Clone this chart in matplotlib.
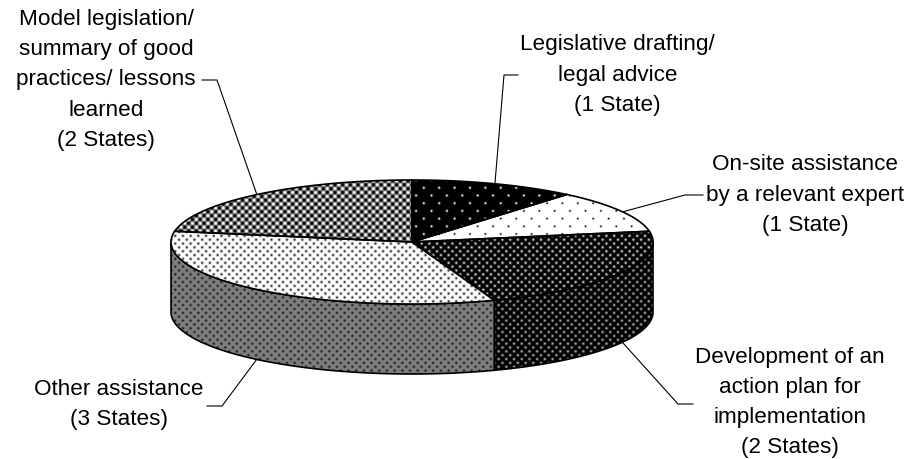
import numpy as np
import matplotlib
matplotlib.use("Agg")
import matplotlib.pyplot as plt
from matplotlib.patches import Polygon

categories = ["Legislative drafting/\nlegal advice\n(1 State)",
              "On-site assistance\nby a relevant expert\n(1 State)",
              "Development of an\naction plan for\nimplementation\n(2 States)",
              "Other assistance\n(3 States)",
              "Model legislation/\nsummary of good\npractices/ lessons\nlearned\n(2 States)"]
states = [1, 1, 2, 3, 2]

W, H = 907, 459
CX, CY, RX, RY, DEPTH = 412, 242, 241, 62, 70
plt.rcParams["font.family"] = ["Liberation Sans", "DejaVu Sans"]

fig = plt.figure(figsize=(W / 100, H / 100), dpi=100)
ax = fig.add_axes([0, 0, 1, 1])
ax.set_xlim(0, W)
ax.set_ylim(H, 0)
ax.axis("off")

yy, xx = np.mgrid[0:H, 0:W] + 0.5


def dots(bg, fg, px, py, sigma=0.75, ox=0.0, oy=0.0):
    w = np.zeros_like(xx)
    for dx, dy in ((0, 0), (px / 2, py / 2)):
        a = (xx - ox - dx + px / 2) % px - px / 2
        b = (yy - oy - dy + py / 2) % py - py / 2
        w = np.maximum(w, np.exp(-(a * a + b * b) / (2 * sigma * sigma)))
    return bg + (fg - bg) * w


def weave(p=7.7):
    v = 0.45 + 0.6 * np.cos(2 * np.pi * xx / p) * np.cos(2 * np.pi * yy / p)
    return np.clip(v, 0, 1)


top_tex = [dots(0.0, 1.0, 15.4, 15.4, 0.8, ox=8, oy=3),
           dots(1.0, 0.0, 15.4, 15.4, 0.7, ox=8, oy=3),
           dots(0.0, 0.85, 7.7, 7.7, 0.9, ox=2, oy=1),
           dots(1.0, 0.15, 7.7, 7.7, 0.9, ox=2, oy=1),
           weave()]
side_tex = {2: dots(0.0, 0.7, 7.7, 7.7, 0.9, ox=2, oy=1),
            3: dots(0.5, 0.1, 7.7, 7.7, 0.9, ox=2, oy=1)}


def rim(t0, t1, n=120):
    t = np.radians(np.linspace(t0, t1, n))
    return np.c_[CX + RX * np.sin(t), CY - RY * np.cos(t)]


def paint(poly, tex, z):
    im = ax.imshow(tex, cmap="gray", vmin=0, vmax=1, extent=(0, W, H, 0),
                   interpolation="nearest", zorder=z, aspect="auto")
    clip = Polygon(poly, closed=True, transform=ax.transData)
    im.set_clip_path(clip)
    ax.add_patch(Polygon(poly, closed=True, fc="none", ec="black", lw=1.2,
                         joinstyle="round", zorder=z + 0.5))


edges = np.cumsum([0] + states) / sum(states) * 360
for i, (a, b) in enumerate(zip(edges[:-1], edges[1:])):
    lo, hi = max(a, 90), min(b, 270)
    if lo < hi:
        front = rim(lo, hi)
        back = front[::-1] + [0, DEPTH]
        paint(np.r_[front, back], side_tex[i], 2)
for i, (a, b) in enumerate(zip(edges[:-1], edges[1:])):
    paint(np.r_[[[CX, CY]], rim(a, b)], top_tex[i], 3)

leaders = [[(518, 75), (504, 75), (495, 183)],
           [(703, 195), (685, 195), (622, 212)],
           [(693, 404), (678, 404), (623, 343)],
           [(207, 406), (222, 406), (257, 359)],
           [(202, 80), (217, 80), (257, 195)]]
for pts in leaders:
    p = np.array(pts)
    ax.plot(p[:, 0], p[:, 1], color="black", lw=0.8, zorder=1)

label_pos = [(617.5, 75), (805, 195), (790, 402.5), (118.5, 404.5), (106, 80)]
for s, (x, y) in zip(categories, label_pos):
    ax.text(x, y, s, ha="center", va="center", fontsize=16.2, color="black",
            linespacing=1.58, zorder=5)

ax.set_xlim(0, W)
ax.set_ylim(H, 0)
fig.savefig("out.png", dpi=100, facecolor="white")
